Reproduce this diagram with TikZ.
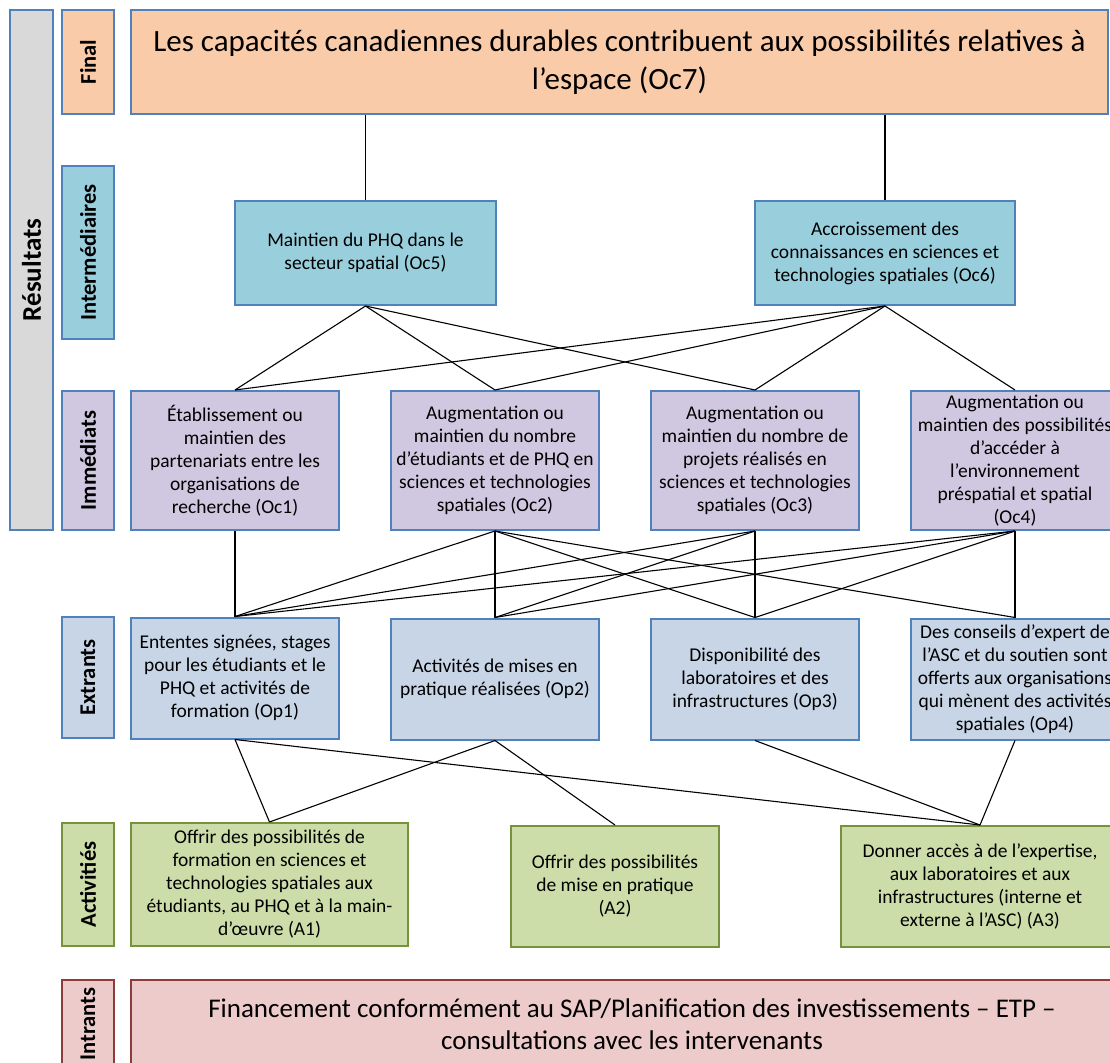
\documentclass[tikz,border=0pt]{standalone}
\usepackage{fontspec}
\setmainfont{Carlito}
\definecolor{bblue}{HTML}{4F81BD}
\definecolor{cpeach}{HTML}{FACBA8}
\definecolor{cteal}{HTML}{99CFDD}
\definecolor{clav}{HTML}{CFC8E0}
\definecolor{cext}{HTML}{C7D5E6}
\definecolor{cgreen}{HTML}{CCDDA9}
\definecolor{bgreen}{HTML}{76923C}
\definecolor{cpink}{HTML}{EECBCB}
\definecolor{bred}{HTML}{8E3B39}
\definecolor{cgray}{HTML}{D9D9D9}
\newcommand{\bodyfs}{\fontsize{19.5}{23}\selectfont}
\newcommand{\labfs}{\fontsize{22.5}{24}\selectfont\bfseries}
\tikzset{
  bx/.style={draw=bblue, line width=2pt, inner sep=0pt, align=center, font=\bodyfs},
  lab/.style={bx, rotate=90, font=\labfs},
  conn/.style={draw=black, line width=1.1pt},
}
\begin{document}
\begin{tikzpicture}[x=1pt,y=-1pt]
\useasboundingbox (0,0) rectangle (1110,1062);
\clip (0,0) rectangle (1110,1062);
% left labels
\node[lab, fill=cgray, minimum width=520pt, minimum height=43pt, font=\fontsize{27}{29}\selectfont\bfseries] (res) at (31.5,270) {Résultats};
\node[lab, fill=cpeach, minimum width=104pt, minimum height=52pt] (lfin) at (88,62) {Final};
\node[lab, fill=cteal, minimum width=173pt, minimum height=52pt] (lint) at (88,252.5) {Intermédiaires};
\node[lab, fill=clav, minimum width=139pt, minimum height=52pt] (limm) at (88,460.5) {Immédiats};
\node[lab, fill=cext, minimum width=121pt, minimum height=52pt] (lext) at (88,677.5) {Extrants};
\node[lab, draw=bgreen, fill=cgreen, minimum width=123pt, minimum height=52pt] (lact) at (88,884.5) {Activitiés};
\node[lab, draw=bred, fill=cpink, minimum width=88pt, minimum height=52pt] (lin) at (88,1024) {Intrants};
% final
\node[bx, fill=cpeach, minimum width=977pt, minimum height=104pt, font=\fontsize{31}{38}\selectfont] (fin) at (619.5,62) {Les capacités canadiennes durables contribuent aux possibilités relatives à\\ l’espace (Oc7)};
% intermediate
\node[bx, fill=cteal, minimum width=261pt, minimum height=104pt] (oc5) at (365.5,253) {Maintien du PHQ dans le\\ secteur spatial (Oc5)};
\node[bx, fill=cteal, minimum width=260pt, minimum height=104pt] (oc6) at (885,253) {Accroissement des\\ connaissances en sciences et\\ technologies spatiales (Oc6)};
% immediate
\node[bx, fill=clav, minimum width=208pt, minimum height=139pt] (oc1) at (235,460.5) {Établissement ou\\ maintien des\\ partenariats entre les\\ organisations de\\ recherche (Oc1)};
\node[bx, fill=clav, minimum width=208pt, minimum height=139pt] (oc2) at (495,460.5) {Augmentation ou\\ maintien du nombre\\ d’étudiants et de PHQ en\\ sciences et technologies\\ spatiales (Oc2)};
\node[bx, fill=clav, minimum width=208pt, minimum height=139pt] (oc3) at (755,460.5) {Augmentation ou\\ maintien du nombre de\\ projets réalisés en\\ sciences et technologies\\ spatiales (Oc3)};
\node[bx, fill=clav, minimum width=208pt, minimum height=139pt] (oc4) at (1015,460.5) {Augmentation ou\\ maintien des possibilités\\ d’accéder à\\ l’environnement\\ préspatial et spatial\\ (Oc4)};
% outputs
\node[bx, fill=cext, minimum width=208pt, minimum height=121pt] (op1) at (235,678) {Ententes signées, stages\\ pour les étudiants et le\\ PHQ et activités de\\ formation (Op1)};
\node[bx, fill=cext, minimum width=208pt, minimum height=121pt] (op2) at (495,679) {Activités de mises en\\ pratique réalisées (Op2)};
\node[bx, fill=cext, minimum width=208pt, minimum height=121pt] (op3) at (755,679) {Disponibilité des\\ laboratoires et des\\ infrastructures (Op3)};
\node[bx, fill=cext, minimum width=208pt, minimum height=121pt] (op4) at (1015,679) {Des conseils d’expert de\\ l’ASC et du soutien sont\\ offerts aux organisations\\ qui mènent des activités\\ spatiales (Op4)};
% activities
\node[bx, draw=bgreen, fill=cgreen, minimum width=277pt, minimum height=123pt] (a1) at (269.5,884.5) {Offrir des possibilités de\\ formation en sciences et\\ technologies spatiales aux\\ étudiants, au PHQ et à la main-\\ d’œuvre (A1)};
\node[bx, draw=bgreen, fill=cgreen, minimum width=208pt, minimum height=121pt] (a2) at (615,886.5) {Offrir des possibilités\\ de mise en pratique\\ (A2)};
\node[bx, draw=bgreen, fill=cgreen, minimum width=278pt, minimum height=121pt] (a3) at (980,886.5) {Donner accès à de l’expertise,\\ aux laboratoires et aux\\ infrastructures (interne et\\ externe à l’ASC) (A3)};
% inputs
\node[bx, draw=bred, fill=cpink, minimum width=1002pt, minimum height=88pt, font=\fontsize{27}{32}\selectfont] (intr) at (632,1024) {Financement conformément au SAP/Planification des investissements – ETP –\\ consultations avec les intervenants};
% connectors
\draw[conn] (fin.south -| oc5.north) -- (oc5.north);
\draw[conn] (fin.south -| oc6.north) -- (oc6.north);
\foreach \t in {oc1,oc2,oc3} \draw[conn] (oc5.south) -- (\t.north);
\foreach \t in {oc1,oc2,oc3,oc4} \draw[conn] (oc6.south) -- (\t.north);
\draw[conn] (oc1.south) -- (op1.north);
\foreach \t in {op1,op2,op3,op4} \draw[conn] (oc2.south) -- (\t.north);
\foreach \t in {op1,op2,op3} \draw[conn] (oc3.south) -- (\t.north);
\foreach \t in {op1,op2,op3,op4} \draw[conn] (oc4.south) -- (\t.north);
\draw[conn] (op1.south) -- (a1.north);
\draw[conn] (op1.south) -- (a3.north);
\draw[conn] (op2.south) -- (a1.north);
\draw[conn] (op2.south) -- (a2.north);
\draw[conn] (op3.south) -- (a3.north);
\draw[conn] (op4.south) -- (a3.north);
\end{tikzpicture}
\end{document}
